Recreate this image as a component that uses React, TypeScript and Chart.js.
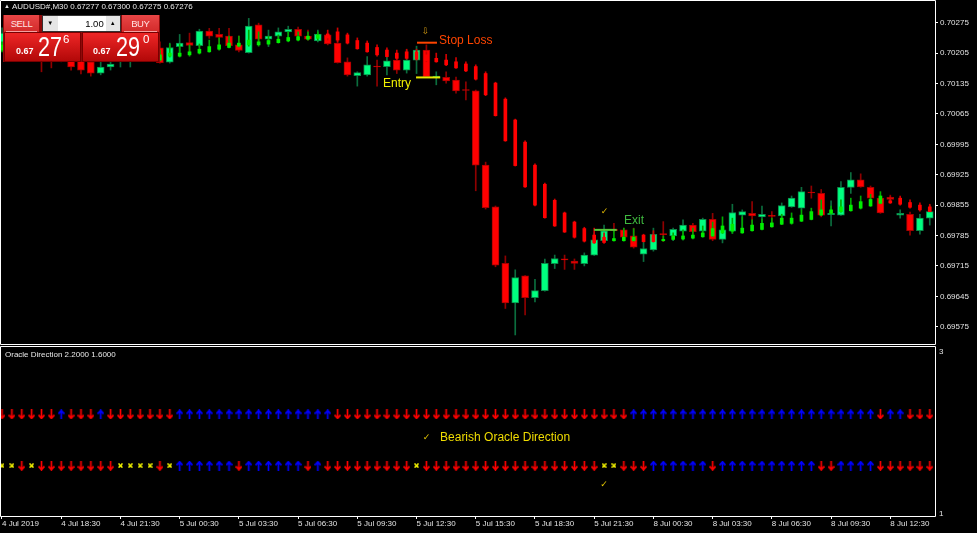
import React, { useEffect, useRef } from "react";
import { Chart, registerables } from "chart.js";

Chart.register(...registerables);

// ---------- time axis ----------
const timeTickBars = [0, 6, 12, 18, 24, 30, 36, 42, 48, 54, 60, 66, 72, 78, 84, 90];
const timeTickLabels = [
  "4 Jul 2019", "4 Jul 18:30", "4 Jul 21:30", "5 Jul 00:30", "5 Jul 03:30", "5 Jul 06:30",
  "5 Jul 09:30", "5 Jul 12:30", "5 Jul 15:30", "5 Jul 18:30", "5 Jul 21:30", "8 Jul 00:30",
  "8 Jul 03:30", "8 Jul 06:30", "8 Jul 09:30", "8 Jul 12:30",
];

// ---------- price axis ----------
const priceTicks = [0.69575, 0.69645, 0.69715, 0.69785, 0.69855, 0.69925, 0.69995, 0.70065, 0.70135, 0.70205, 0.70275];

// ---------- AUDUSD M30 candles ----------
const openP = [
  0.70224, 0.70247, 0.70212, 0.70235, 0.70224, 0.70217, 0.70194, 0.70198, 0.70189, 0.70185,
  0.70159, 0.70173, 0.70189, 0.70194, 0.70201, 0.70208, 0.70217, 0.70184, 0.70220, 0.70229,
  0.70222, 0.70256, 0.70248, 0.70244, 0.70224, 0.70206, 0.70270, 0.70237, 0.70244, 0.70254,
  0.70260, 0.70244, 0.70233, 0.70247, 0.70228, 0.70185, 0.70153, 0.70155, 0.70175, 0.70174,
  0.70189, 0.70166, 0.70189, 0.70212, 0.70149, 0.70149, 0.70143, 0.70121, 0.70118, 0.69947,
  0.69851, 0.69721, 0.69630, 0.69692, 0.69642, 0.69658, 0.69720, 0.69731, 0.69726, 0.69720,
  0.69740, 0.69773, 0.69799, 0.69798, 0.69784, 0.69742, 0.69752, 0.69789, 0.69784, 0.69795,
  0.69809, 0.69795, 0.69822, 0.69776, 0.69795, 0.69832, 0.69836, 0.69828, 0.69831, 0.69830,
  0.69851, 0.69848, 0.69885, 0.69882, 0.69833, 0.69832, 0.69896, 0.69913, 0.69896, 0.69871,
  0.69873, 0.69832, 0.69834, 0.69796, 0.69825,
];
const highP = [
  0.70263, 0.70258, 0.70251, 0.70244, 0.70235, 0.70231, 0.70224, 0.70212, 0.70201, 0.70194,
  0.70189, 0.70194, 0.70217, 0.70224, 0.70226, 0.70235, 0.70231, 0.70228, 0.70248, 0.70251,
  0.70260, 0.70262, 0.70262, 0.70262, 0.70244, 0.70285, 0.70274, 0.70258, 0.70263, 0.70267,
  0.70265, 0.70258, 0.70258, 0.70251, 0.70240, 0.70194, 0.70162, 0.70197, 0.70189, 0.70212,
  0.70205, 0.70212, 0.70221, 0.70224, 0.70162, 0.70162, 0.70150, 0.70139, 0.70120, 0.69954,
  0.69853, 0.69738, 0.69706, 0.69693, 0.69684, 0.69731, 0.69740, 0.69740, 0.69731, 0.69745,
  0.69791, 0.69809, 0.69813, 0.69802, 0.69802, 0.69771, 0.69802, 0.69817, 0.69802, 0.69821,
  0.69813, 0.69825, 0.69836, 0.69799, 0.69857, 0.69844, 0.69863, 0.69853, 0.69840, 0.69860,
  0.69876, 0.69896, 0.69899, 0.69891, 0.69865, 0.69909, 0.69930, 0.69927, 0.69899, 0.69876,
  0.69878, 0.69844, 0.69839, 0.69834, 0.69855,
];
const lowP = [
  0.70212, 0.70217, 0.70201, 0.70194, 0.70162, 0.70171, 0.70185, 0.70166, 0.70157, 0.70152,
  0.70155, 0.70166, 0.70173, 0.70173, 0.70189, 0.70194, 0.70182, 0.70182, 0.70197, 0.70201,
  0.70219, 0.70239, 0.70224, 0.70219, 0.70208, 0.70205, 0.70231, 0.70220, 0.70231, 0.70243,
  0.70240, 0.70235, 0.70231, 0.70224, 0.70182, 0.70152, 0.70129, 0.70152, 0.70129, 0.70155,
  0.70158, 0.70159, 0.70158, 0.70150, 0.70132, 0.70136, 0.70113, 0.70097, 0.69888, 0.69846,
  0.69713, 0.69617, 0.69556, 0.69602, 0.69632, 0.69657, 0.69709, 0.69707, 0.69707, 0.69715,
  0.69739, 0.69771, 0.69793, 0.69775, 0.69756, 0.69725, 0.69749, 0.69771, 0.69773, 0.69775,
  0.69786, 0.69794, 0.69773, 0.69768, 0.69790, 0.69798, 0.69798, 0.69802, 0.69805, 0.69825,
  0.69850, 0.69844, 0.69871, 0.69828, 0.69807, 0.69831, 0.69882, 0.69896, 0.69867, 0.69836,
  0.69860, 0.69825, 0.69786, 0.69788, 0.69809,
];
const closeP = [
  0.70251, 0.70231, 0.70240, 0.70208, 0.70194, 0.70198, 0.70212, 0.70173, 0.70166, 0.70159,
  0.70173, 0.70180, 0.70208, 0.70212, 0.70217, 0.70224, 0.70183, 0.70218, 0.70228, 0.70223,
  0.70256, 0.70244, 0.70241, 0.70222, 0.70211, 0.70267, 0.70237, 0.70244, 0.70254, 0.70260,
  0.70244, 0.70237, 0.70249, 0.70226, 0.70183, 0.70155, 0.70160, 0.70178, 0.70173, 0.70187,
  0.70166, 0.70189, 0.70212, 0.70151, 0.70152, 0.70141, 0.70118, 0.70119, 0.69947, 0.69849,
  0.69717, 0.69630, 0.69688, 0.69642, 0.69658, 0.69721, 0.69732, 0.69729, 0.69721, 0.69740,
  0.69775, 0.69796, 0.69796, 0.69781, 0.69758, 0.69755, 0.69788, 0.69787, 0.69799, 0.69809,
  0.69794, 0.69822, 0.69776, 0.69798, 0.69838, 0.69840, 0.69830, 0.69834, 0.69829, 0.69854,
  0.69871, 0.69886, 0.69883, 0.69832, 0.69836, 0.69896, 0.69913, 0.69897, 0.69871, 0.69837,
  0.69868, 0.69836, 0.69796, 0.69825, 0.69840,
];

// ---------- smoothed (thin) candles overlay ----------
const haOpen = [
  0.70212, 0.70210, 0.70208, 0.70205, 0.70217, 0.70214, 0.70212, 0.70210, 0.70208, 0.70205,
  0.70203, 0.70203, 0.70194, 0.70196, 0.70196, 0.70196, 0.70189, 0.70198, 0.70198, 0.70201,
  0.70205, 0.70208, 0.70214, 0.70218, 0.70221, 0.70224, 0.70224, 0.70226, 0.70229, 0.70233,
  0.70235, 0.70237, 0.70239, 0.70249, 0.70254, 0.70247, 0.70234, 0.70228, 0.70218, 0.70212,
  0.70205, 0.70208, 0.70208, 0.70201, 0.70193, 0.70189, 0.70185, 0.70180, 0.70174, 0.70158,
  0.70136, 0.70099, 0.70051, 0.70000, 0.69947, 0.69903, 0.69866, 0.69837, 0.69816, 0.69801,
  0.69786, 0.69781, 0.69773, 0.69773, 0.69773, 0.69786, 0.69786, 0.69773, 0.69776, 0.69777,
  0.69779, 0.69782, 0.69784, 0.69791, 0.69795, 0.69791, 0.69796, 0.69799, 0.69805, 0.69811,
  0.69813, 0.69818, 0.69822, 0.69832, 0.69836, 0.69840, 0.69842, 0.69848, 0.69853, 0.69859,
  0.69865, 0.69871, 0.69861, 0.69855, 0.69851,
];
const haHigh = [
  0.70231, 0.70228, 0.70226, 0.70224, 0.70224, 0.70221, 0.70219, 0.70217, 0.70214, 0.70212,
  0.70210, 0.70208, 0.70212, 0.70212, 0.70214, 0.70217, 0.70212, 0.70226, 0.70226, 0.70224,
  0.70226, 0.70235, 0.70240, 0.70244, 0.70244, 0.70258, 0.70254, 0.70244, 0.70247, 0.70254,
  0.70254, 0.70254, 0.70254, 0.70258, 0.70263, 0.70251, 0.70240, 0.70233, 0.70224, 0.70217,
  0.70212, 0.70214, 0.70214, 0.70208, 0.70205, 0.70202, 0.70195, 0.70185, 0.70178, 0.70162,
  0.70138, 0.70102, 0.70053, 0.70003, 0.69950, 0.69906, 0.69869, 0.69839, 0.69818, 0.69804,
  0.69802, 0.69791, 0.69798, 0.69802, 0.69801, 0.69788, 0.69796, 0.69784, 0.69791, 0.69798,
  0.69802, 0.69807, 0.69816, 0.69828, 0.69825, 0.69828, 0.69821, 0.69823, 0.69825, 0.69834,
  0.69837, 0.69844, 0.69848, 0.69867, 0.69853, 0.69867, 0.69871, 0.69876, 0.69880, 0.69886,
  0.69874, 0.69876, 0.69867, 0.69860, 0.69857,
];
const haLow = [
  0.70208, 0.70205, 0.70203, 0.70201, 0.70198, 0.70196, 0.70194, 0.70191, 0.70189, 0.70189,
  0.70189, 0.70189, 0.70189, 0.70191, 0.70194, 0.70194, 0.70187, 0.70196, 0.70196, 0.70198,
  0.70203, 0.70207, 0.70212, 0.70217, 0.70219, 0.70221, 0.70221, 0.70224, 0.70228, 0.70231,
  0.70233, 0.70235, 0.70235, 0.70235, 0.70231, 0.70226, 0.70214, 0.70207, 0.70198, 0.70196,
  0.70191, 0.70191, 0.70189, 0.70185, 0.70184, 0.70176, 0.70170, 0.70162, 0.70143, 0.70107,
  0.70060, 0.70002, 0.69945, 0.69896, 0.69853, 0.69825, 0.69806, 0.69792, 0.69779, 0.69770,
  0.69767, 0.69767, 0.69772, 0.69772, 0.69772, 0.69770, 0.69770, 0.69772, 0.69775, 0.69775,
  0.69777, 0.69781, 0.69783, 0.69790, 0.69790, 0.69790, 0.69795, 0.69798, 0.69804, 0.69810,
  0.69811, 0.69817, 0.69821, 0.69831, 0.69834, 0.69839, 0.69841, 0.69846, 0.69852, 0.69858,
  0.69859, 0.69855, 0.69848, 0.69841, 0.69840,
];
const haClose = [
  0.70224, 0.70221, 0.70219, 0.70217, 0.70205, 0.70203, 0.70201, 0.70198, 0.70196, 0.70194,
  0.70194, 0.70194, 0.70203, 0.70203, 0.70203, 0.70203, 0.70201, 0.70205, 0.70205, 0.70208,
  0.70214, 0.70220, 0.70224, 0.70228, 0.70228, 0.70235, 0.70231, 0.70234, 0.70237, 0.70241,
  0.70243, 0.70244, 0.70247, 0.70240, 0.70235, 0.70228, 0.70215, 0.70208, 0.70201, 0.70197,
  0.70193, 0.70193, 0.70191, 0.70187, 0.70185, 0.70178, 0.70171, 0.70164, 0.70145, 0.70109,
  0.70061, 0.70003, 0.69946, 0.69897, 0.69855, 0.69826, 0.69807, 0.69793, 0.69781, 0.69772,
  0.69768, 0.69769, 0.69778, 0.69781, 0.69781, 0.69771, 0.69771, 0.69776, 0.69784, 0.69784,
  0.69786, 0.69791, 0.69801, 0.69807, 0.69811, 0.69802, 0.69809, 0.69813, 0.69814, 0.69825,
  0.69825, 0.69832, 0.69840, 0.69844, 0.69844, 0.69851, 0.69855, 0.69863, 0.69868, 0.69876,
  0.69860, 0.69857, 0.69850, 0.69844, 0.69840,
];

// ---------- trade levels ----------
const stopLossLevel = { fromBar: 42.05, toBar: 44.07, price: 0.70229 };
const entryLevel = { fromBar: 41.95, toBar: 44.4, price: 0.70149 };
const exitLevel = { fromBar: 60.0, toBar: 62.28, price: 0.69798 };

const priceNotes = [
  { text: "Stop Loss", bar: 44.28, price: 0.70233 },
  { text: "Entry", bar: 38.6, price: 0.70134 },
  { text: "Exit", bar: 63.02, price: 0.69818 },
  { text: "\u21E9", bar: 42.9, price: 0.70255 },
  { text: "\u2713", bar: 61.05, price: 0.6984 },
];

// ---------- Oracle Direction indicator ----------
const oracleUpperLevel = 2.2;
const oracleLowerLevel = 1.6;
const oracleRange = [1, 3];
const oracleTickValues = [3, 1];
// d = bearish (red down), u = bullish (blue up), x = neutral (yellow)
const oracleUpper = (
  "dddddd" + "u" + "ddd" + "u" + "ddddddd" + "uuuuuuuuuuuuuuuu" +
  "dddddddddddddddddddddddddddddd" + "uuuuuuuuuuuuuuuuuuuuuuuuu" + "d" + "uu" + "ddd"
).split("");
const oracleLower = (
  "xx" + "d" + "x" + "dddddddd" + "xxxx" + "d" + "x" + "uuuuuu" + "d" + "uuuuuu" + "d" + "u" +
  "ddddddddd" + "x" + "dddddddddddddddddd" + "xx" + "ddd" + "uuuuuu" + "d" + "uuuuuuuuuu" + "dd" +
  "uuuu" + "dddddd"
).split("");
const oracleNotes = [
  { text: "\u2713", bar: 43.0, value: 1.93 },
  { text: "Bearish Oracle Direction", bar: 44.38, value: 1.93 },
  { text: "\u2713", bar: 61.0, value: 1.374 },
];

const BAR_MIN = -0.2026;
const BAR_MAX = 94.53;
const PRICE_MIN = 0.695329;
const PRICE_MAX = 0.703273;

const AXIS_FONT = { family: '"Liberation Sans", Arial, sans-serif', size: 8 };

function makeGlyph(kind: string): HTMLCanvasElement {
  const c = document.createElement("canvas");
  const g = c.getContext("2d") as CanvasRenderingContext2D;
  if (kind === "x") {
    c.width = 5;
    c.height = 5;
    g.strokeStyle = "#ffff00";
    g.lineWidth = 1.5;
    g.beginPath();
    g.moveTo(0.5, 0.5);
    g.lineTo(4.5, 4.5);
    g.moveTo(4.5, 0.5);
    g.lineTo(0.5, 4.5);
    g.stroke();
    return c;
  }
  c.width = 7;
  c.height = 10;
  g.lineWidth = 1.7;
  if (kind === "d") {
    g.strokeStyle = "#ff0000";
    g.beginPath();
    g.moveTo(3.5, 0);
    g.lineTo(3.5, 9);
    g.moveTo(0.6, 5.6);
    g.lineTo(3.5, 9);
    g.lineTo(6.4, 5.6);
    g.stroke();
  } else {
    g.strokeStyle = "#0000ff";
    g.beginPath();
    g.moveTo(3.5, 10);
    g.lineTo(3.5, 1);
    g.moveTo(0.6, 4.4);
    g.lineTo(3.5, 1);
    g.lineTo(6.4, 4.4);
    g.stroke();
  }
  return c;
}

const framePlugin = {
  id: "mtFrame",
  afterDraw(chart: any) {
    const { ctx, chartArea: a } = chart;
    ctx.save();
    ctx.strokeStyle = "#ffffff";
    ctx.lineWidth = 1;
    ctx.beginPath();
    ctx.moveTo(a.left + 0.5, a.top + 0.5);
    ctx.lineTo(a.right + 0.5, a.top + 0.5);
    ctx.lineTo(a.right + 0.5, a.bottom - 0.5);
    ctx.lineTo(a.left + 0.5, a.bottom - 0.5);
    ctx.closePath();
    ctx.stroke();
    ctx.restore();
  },
};

export default function App() {
  const topRef = useRef<HTMLCanvasElement | null>(null);
  const botRef = useRef<HTMLCanvasElement | null>(null);

  useEffect(() => {
    const idx = openP.map((_, i) => i);
    const bull = (i: number) => closeP[i] >= openP[i];
    const haBull = (i: number) => haClose[i] >= haOpen[i];

    const xScale = (show: boolean) => ({
      type: "linear",
      min: BAR_MIN,
      max: BAR_MAX,
      offset: false,
      display: show,
      afterBuildTicks: (s: any) => {
        s.ticks = timeTickBars.map((v) => ({ value: v }));
      },
      afterFit: (s: any) => {
        s.height = show ? 16 : 0;
        s.paddingLeft = 0;
        s.paddingRight = 0;
        s.paddingTop = 0;
        s.paddingBottom = 0;
      },
      grid: { display: true, drawOnChartArea: false, drawTicks: true, tickLength: 2, color: "#ffffff", offset: false },
      border: { display: false },
      ticks: {
        autoSkip: false,
        maxRotation: 0,
        minRotation: 0,
        align: "start",
        padding: 0,
        color: "#e2e2e2",
        font: AXIS_FONT,
        callback: (_v: any, i: number) => timeTickLabels[i],
      },
    });

    const yFit = (s: any) => {
      s.width = 42;
      s.paddingTop = 0;
      s.paddingBottom = 0;
      s.paddingLeft = 0;
      s.paddingRight = 0;
    };

    const notesPlugin = {
      id: "priceNotes",
      afterDatasetsDraw(chart: any) {
        const { ctx } = chart;
        const xs = chart.scales.x;
        const ys = chart.scales.y;
        const styles = [
          { color: "#ff4500", font: '12px "Liberation Sans", Arial, sans-serif', align: "left" },
          { color: "#f2f200", font: '12px "Liberation Sans", Arial, sans-serif', align: "left" },
          { color: "#3fb83f", font: '12px "Liberation Sans", Arial, sans-serif', align: "left" },
          { color: "#d39a10", font: '9px "DejaVu Sans", sans-serif', align: "center" },
          { color: "#e0b800", font: 'bold 9px "DejaVu Sans", sans-serif', align: "center" },
        ];
        ctx.save();
        ctx.textBaseline = "middle";
        priceNotes.forEach((n, k) => {
          const st = styles[k];
          ctx.fillStyle = st.color;
          ctx.font = st.font;
          ctx.textAlign = st.align;
          ctx.fillText(n.text, xs.getPixelForValue(n.bar), ys.getPixelForValue(n.price));
        });
        ctx.restore();
      },
    };

    const levelDs = (lv: any, color: string) => ({
      type: "line",
      data: [
        { x: lv.fromBar, y: lv.price },
        { x: lv.toBar, y: lv.price },
      ],
      borderColor: color,
      borderWidth: 2,
      borderCapStyle: "butt",
      pointRadius: 0,
      order: 0,
    });

    const top = new Chart(topRef.current as HTMLCanvasElement, {
      type: "bar",
      data: {
        datasets: [
          levelDs(stopLossLevel, "#ff4500"),
          levelDs(entryLevel, "#e8e800"),
          levelDs(exitLevel, "#55c83a"),
          {
            type: "bar",
            data: idx.map((i) => ({ x: i, y: [haOpen[i], haClose[i]] })),
            backgroundColor: idx.map((i) => (haBull(i) ? "#00ee00" : "#ff0000")),
            barThickness: 3,
            minBarLength: 1,
            grouped: false,
            borderWidth: 0,
            order: 1,
          },
          {
            type: "bar",
            data: idx.map((i) => ({ x: i, y: [haLow[i], haHigh[i]] })),
            backgroundColor: idx.map((i) => (haBull(i) ? "#00a800" : "#d00000")),
            barThickness: 1,
            minBarLength: 1,
            grouped: false,
            borderWidth: 0,
            order: 2,
          },
          {
            type: "bar",
            data: idx.map((i) => ({ x: i, y: [openP[i], closeP[i]] })),
            backgroundColor: idx.map((i) => (bull(i) ? "#00ff7f" : "#ff0000")),
            borderColor: idx.map((i) => (bull(i) ? "#0a8a4a" : "#a80000")),
            borderWidth: 1,
            borderSkipped: false,
            barThickness: 7,
            minBarLength: 1,
            grouped: false,
            order: 3,
          },
          {
            type: "bar",
            data: idx.map((i) => ({ x: i, y: [lowP[i], highP[i]] })),
            backgroundColor: idx.map((i) => (bull(i) ? "#0b6e3e" : "#900000")),
            barThickness: 1,
            minBarLength: 1,
            grouped: false,
            borderWidth: 0,
            order: 4,
          },
        ] as any,
      },
      options: {
        responsive: false,
        animation: false,
        devicePixelRatio: 1,
        events: [],
        layout: { autoPadding: false, padding: { left: 0, top: 0, right: 0, bottom: 1 } },
        plugins: { legend: { display: false }, tooltip: { enabled: false } },
        scales: {
          x: xScale(false) as any,
          y: {
            type: "linear",
            position: "right",
            min: PRICE_MIN,
            max: PRICE_MAX,
            afterBuildTicks: (s: any) => {
              s.ticks = priceTicks.map((v) => ({ value: v }));
            },
            afterFit: yFit,
            grid: { drawOnChartArea: false, drawTicks: true, tickLength: 3, color: "#ffffff" },
            border: { display: false },
            ticks: {
              padding: 2,
              color: "#e2e2e2",
              font: AXIS_FONT,
              callback: (v: any) => Number(v).toFixed(5),
            },
          },
        },
      },
      plugins: [framePlugin, notesPlugin],
    });

    const glyphs: Record<string, HTMLCanvasElement> = {
      d: makeGlyph("d"),
      u: makeGlyph("u"),
      x: makeGlyph("x"),
    };

    const oraclePlugin = {
      id: "oracleNotes",
      afterDraw(chart: any) {
        const { ctx, chartArea: a } = chart;
        const xs = chart.scales.x;
        const ys = chart.scales.y;
        ctx.save();
        ctx.font = '8px "Liberation Sans", Arial, sans-serif';
        ctx.fillStyle = "#e8e8e8";
        ctx.textAlign = "left";
        ctx.textBaseline = "alphabetic";
        ctx.fillText(
          "Oracle Direction " + oracleUpperLevel.toFixed(4) + " " + oracleLowerLevel.toFixed(4),
          a.left + 5,
          a.top + 10.5
        );
        // axis labels
        ctx.fillStyle = "#e2e2e2";
        ctx.textBaseline = "top";
        ctx.fillText(String(oracleTickValues[0]), a.right + 4, ys.getPixelForValue(oracleTickValues[0]) + 2);
        ctx.textBaseline = "alphabetic";
        ctx.fillText(String(oracleTickValues[1]), a.right + 4, ys.getPixelForValue(oracleTickValues[1]) - 1);
        // annotations
        ctx.textBaseline = "middle";
        oracleNotes.forEach((n) => {
          const isCheck = n.text === "\u2713";
          ctx.font = isCheck ? 'bold 9px "DejaVu Sans", sans-serif' : '12px "Liberation Sans", Arial, sans-serif';
          ctx.fillStyle = isCheck ? "#e6c800" : "#f0dc00";
          ctx.textAlign = isCheck ? "center" : "left";
          ctx.fillText(n.text, xs.getPixelForValue(n.bar), ys.getPixelForValue(n.value));
        });
        ctx.restore();
      },
    };

    const bot = new Chart(botRef.current as HTMLCanvasElement, {
      type: "scatter",
      data: {
        datasets: [
          {
            data: idx.map((i) => ({ x: i, y: oracleUpperLevel })),
            pointStyle: (c: any) => glyphs[oracleUpper[c.dataIndex]],
            pointRadius: 3,
          },
          {
            data: idx.map((i) => ({ x: i, y: oracleLowerLevel })),
            pointStyle: (c: any) => glyphs[oracleLower[c.dataIndex]],
            pointRadius: 3,
          },
        ] as any,
      },
      options: {
        responsive: false,
        animation: false,
        devicePixelRatio: 1,
        events: [],
        layout: { autoPadding: false, padding: 0 },
        plugins: { legend: { display: false }, tooltip: { enabled: false } },
        scales: {
          x: xScale(true) as any,
          y: {
            type: "linear",
            position: "right",
            min: oracleRange[0],
            max: oracleRange[1],
            afterFit: yFit,
            grid: { display: false },
            border: { display: false },
            ticks: { display: false },
          },
        },
      },
      plugins: [framePlugin, oraclePlugin],
    });

    return () => {
      top.destroy();
      bot.destroy();
    };
  }, []);

  const font = '"Liberation Sans", Arial, sans-serif';
  const priceBox: React.CSSProperties = {
    position: "absolute",
    top: 17.3,
    height: 29.4,
    background: "linear-gradient(#ee2626, #b20808)",
    border: "1px solid #780000",
    boxSizing: "border-box",
  };
  const abs = (o: React.CSSProperties): React.CSSProperties => ({ position: "absolute", whiteSpace: "nowrap", ...o });

  return (
    <div
      style={{
        position: "absolute",
        left: 0,
        top: 0,
        width: 977,
        height: 533,
        background: "#000",
        overflow: "hidden",
        fontFamily: font,
      }}
    >
      <canvas ref={topRef} width={977} height={346} style={{ position: "absolute", left: 0, top: 0 }} />
      <canvas ref={botRef} width={977} height={187} style={{ position: "absolute", left: 0, top: 346 }} />

      {/* symbol header */}
      <div style={abs({ left: 4, top: 3, fontSize: 6, lineHeight: "6px", color: "#e8e8e8" })}>▲</div>
      <div style={abs({ left: 12, top: 2, fontSize: 8, lineHeight: "10px", color: "#e8e8e8" })}>
        AUDUSD#,M30 0.67277 0.67300 0.67275 0.67276
      </div>

      {/* one-click trading panel */}
      <div style={abs({ left: 3, top: 15, width: 157, height: 47, background: "#8e0a0a" })}>
        <div
          style={abs({
            left: 1,
            top: 0,
            width: 35,
            height: 17,
            background: "linear-gradient(#e84646, #d22a2a)",
            color: "#ffe2e2",
            fontSize: 9.5,
            lineHeight: "17px",
            textAlign: "center",
            letterSpacing: -0.4,
          })}
        >
          SELL
        </div>
        <div style={abs({ left: 3, top: 15.5, width: 31, height: 1, background: "#f3a0a0" })} />
        <div
          style={abs({
            left: 38.7,
            top: 0,
            width: 79,
            height: 17,
            background: "#ffffff",
            border: "1px solid #333",
            boxSizing: "border-box",
          })}
        >
          <div
            style={abs({
              left: 0,
              top: 0,
              width: 15,
              height: 15,
              background: "#e6e6e6",
              fontSize: 6,
              lineHeight: "15px",
              textAlign: "center",
              color: "#000",
            })}
          >
            ▼
          </div>
          <div style={abs({ right: 16, top: 0, fontSize: 9.5, lineHeight: "15px", color: "#000" })}>1.00</div>
          <div
            style={abs({
              right: 0,
              top: 0,
              width: 14,
              height: 15,
              background: "#e6e6e6",
              fontSize: 6,
              lineHeight: "15px",
              textAlign: "center",
              color: "#000",
            })}
          >
            ▲
          </div>
        </div>
        <div
          style={abs({
            left: 118.7,
            top: 0,
            width: 37.3,
            height: 17,
            background: "linear-gradient(#e84646, #d22a2a)",
            color: "#ffe2e2",
            fontSize: 9.5,
            lineHeight: "17px",
            textAlign: "center",
            letterSpacing: -0.4,
          })}
        >
          BUY
        </div>
        <div style={abs({ left: 121, top: 15.5, width: 33, height: 1, background: "#f3a0a0" })} />

        <div style={{ ...priceBox, left: 1, width: 76.7 }} />
        <div style={{ ...priceBox, left: 79.3, width: 76.7 }} />

        <div style={abs({ left: 13, top: 31.9, fontSize: 9, lineHeight: "9px", fontWeight: "bold", color: "#fff" })}>0.67</div>
        <div
          style={abs({
            left: 35,
            top: 18.8,
            fontSize: 27,
            lineHeight: "27px",
            color: "#fff",
            transform: "scaleX(0.8)",
            transformOrigin: "left top",
          })}
        >
          27
        </div>
        <div style={abs({ left: 60, top: 18.5, fontSize: 11.5, lineHeight: "11.5px", color: "#fff" })}>6</div>

        <div style={abs({ left: 90, top: 31.9, fontSize: 9, lineHeight: "9px", fontWeight: "bold", color: "#fff" })}>0.67</div>
        <div
          style={abs({
            left: 113,
            top: 18.8,
            fontSize: 27,
            lineHeight: "27px",
            color: "#fff",
            transform: "scaleX(0.8)",
            transformOrigin: "left top",
          })}
        >
          29
        </div>
        <div style={abs({ left: 140, top: 18.5, fontSize: 11.5, lineHeight: "11.5px", color: "#fff" })}>0</div>
      </div>
    </div>
  );
}
